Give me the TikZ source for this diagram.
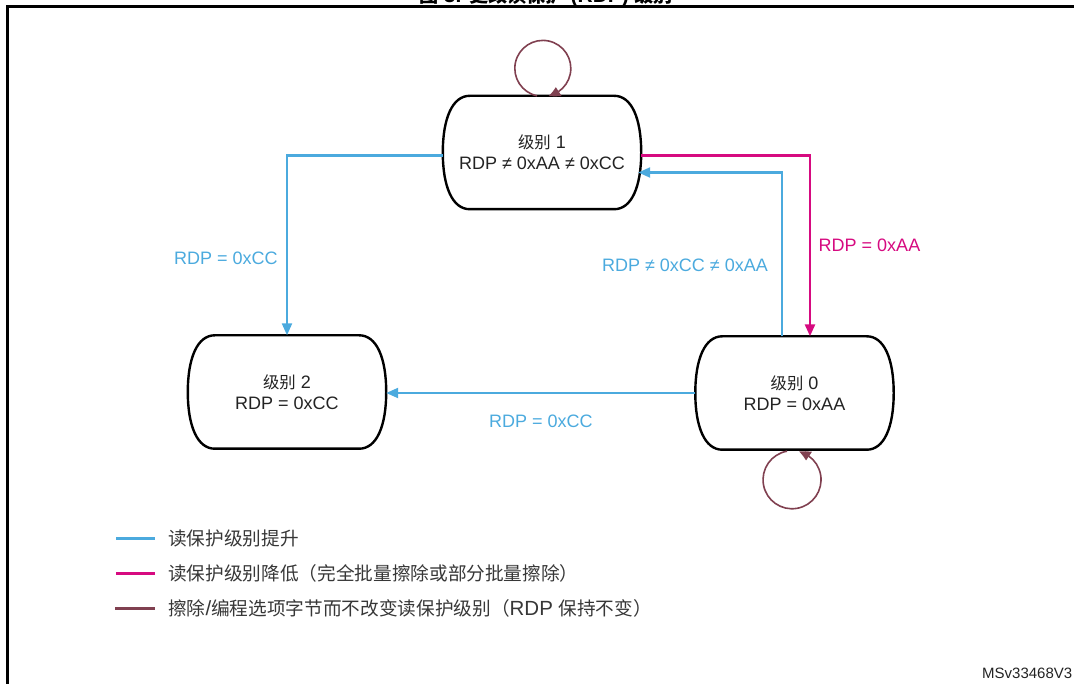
\documentclass[tikz,border=0pt]{standalone}
\usepackage{fontspec}
\setmainfont{Liberation Sans}
\newfontfamily\cjk[Scale=0.91]{Noto Sans CJK SC}
\usetikzlibrary{arrows.meta,calc,bending}
\definecolor{rdpblue}{RGB}{75,170,222}
\definecolor{rdpmag}{RGB}{214,10,128}
\definecolor{rdpmaroon}{RGB}{128,64,80}
\definecolor{txt}{RGB}{35,35,35}
\definecolor{legtxt}{RGB}{55,55,55}
\tikzset{
  statebox/.style={minimum width=198pt, minimum height=113pt, inner sep=0pt, align=center,
    text=txt, font=\fontsize{18}{21}\selectfont},
  outline/.style={line width=2.4pt, black},
  blueline/.style={draw=rdpblue, line width=2.2pt, -{Triangle[length=12pt,width=10pt]}},
  magline/.style={draw=rdpmag, line width=2.6pt, -{Triangle[length=12pt,width=10pt]}},
  loopline/.style={draw=rdpmaroon, line width=1.6pt, -{Triangle[bend,length=11pt,width=10pt]}},
  lab/.style={font=\fontsize{18}{21}\selectfont, inner sep=0pt},
  legtext/.style={font=\fontsize{20.5}{24}\selectfont, text=legtxt, anchor=west, inner sep=0pt},
  legline/.style={line width=3pt},
}
\newcommand\stateoutline[1]{%
  \draw[outline] ($(#1.north west)+(27,0)$) -- ($(#1.north east)+(-27,0)$)
    .. controls ($(#1.north east)+(-9.5,0)$) and ($(#1.east)+(0,34)$) .. (#1.east)
    .. controls ($(#1.east)+(0,-34)$) and ($(#1.south east)+(-9.5,0)$) .. ($(#1.south east)+(-27,0)$)
    -- ($(#1.south west)+(27,0)$)
    .. controls ($(#1.south west)+(9.5,0)$) and ($(#1.west)+(0,-34)$) .. (#1.west)
    .. controls ($(#1.west)+(0,34)$) and ($(#1.north west)+(9.5,0)$) .. cycle;}
\begin{document}
\begin{tikzpicture}[x=1pt,y=1pt]
\useasboundingbox (0,0) rectangle (1074,-684);
% frame and clipped title
\draw[line width=3pt] (7,-700) -- (7,-7) -- (1090,-7);
\node[anchor=base, inner sep=0pt, font=\fontsize{21}{24}\selectfont\bfseries] (title) at (546,-3)
  {{\cjk 图} 3. {\cjk 更改读保护} (RDP) {\cjk 级别}};
% states
\node[statebox] (l1) at (542,-152.5) {{\cjk 级别} 1\\RDP ≠ 0xAA ≠ 0xCC};
\node[statebox] (l2) at (287,-392) {{\cjk 级别} 2\\RDP = 0xCC};
\node[statebox] (l0) at (794.5,-393) {{\cjk 级别} 0\\RDP = 0xAA};
\stateoutline{l1}
\stateoutline{l2}
\stateoutline{l0}
% transitions
\draw[blueline] ([yshift=-3pt]l1.west) -| (l2.north);
\draw[magline] ([yshift=-3pt]l1.east) -| ([xshift=15.5pt]l0.north);
\draw[blueline] ([xshift=-12.5pt]l0.north) |- ([xshift=-3pt,yshift=-20pt]l1.east);
\draw[blueline] (l0.west) -- (l2.east |- l0.west);
% self loops
\draw[loopline] ([xshift=-5pt]l1.north) arc[start angle=258, end angle=-78, radius=28];
\draw[loopline] ([xshift=-5pt]l0.south) ++(-2.5,-1.5) arc[start angle=100, end angle=436, radius=29];
% labels
\node[lab, text=rdpblue] (lab1) at (226,-258) {RDP = 0xCC};
\node[lab, text=rdpblue] (lab2) at (685,-265) {RDP ≠ 0xCC ≠ 0xAA};
\node[lab, text=rdpmag] (lab3) at (869.5,-245) {RDP = 0xAA};
\node[lab, text=rdpblue] (lab4) at (541,-421) {RDP = 0xCC};
% legend
\coordinate (a1) at (116,-538); \coordinate (b1) at (155,-538);
\coordinate (a2) at (116,-573); \coordinate (b2) at (155,-573);
\coordinate (a3) at (115,-608); \coordinate (b3) at (155,-608);
\draw[legline, rdpblue] (a1) -- (b1);
\draw[legline, rdpmag] (a2) -- (b2);
\draw[legline, rdpmaroon] (a3) -- (b3);
\node[legtext] (t1) at (168,-538) {\cjk 读保护级别提升};
\node[legtext] (t2) at (168,-573) {\cjk 读保护级别降低（完全批量擦除或部分批量擦除）};
\node[legtext] (t3) at (168,-608) {{\cjk 擦除}/{\cjk 编程选项字节而不改变读保护级别（}RDP {\cjk 保持不变）}};
% id
\node[anchor=west, inner sep=0pt, font=\fontsize{15}{18}\selectfont, text=txt] (id) at (982,-673) {MSv33468V3};
\end{tikzpicture}
\end{document}
